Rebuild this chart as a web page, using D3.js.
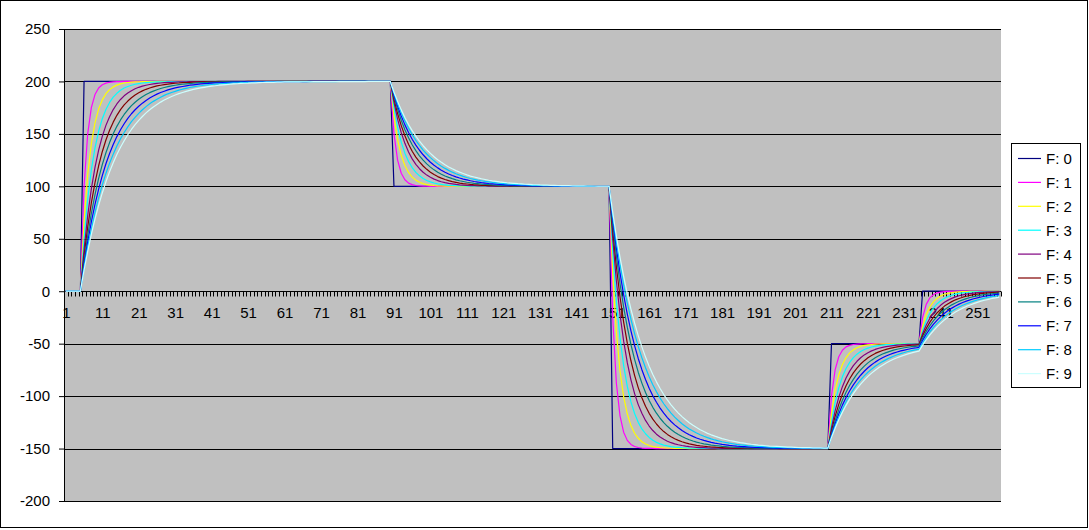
<!DOCTYPE html>
<html><head><meta charset="utf-8">
<script src="https://cdn.jsdelivr.net/npm/d3@7"></script>
<style>body{margin:0;background:#fff}svg{display:block}text{font-family:"Liberation Sans",Arial,sans-serif}</style>
</head><body><svg id="c" width="1089" height="530"></svg>
<script>
const categories = d3.range(1, 258);
const xTickLabels = [1,11,21,31,41,51,61,71,81,91,101,111,121,131,141,151,161,171,181,191,201,211,221,231,241,251];
const yTicks = [-200,-150,-100,-50,0,50,100,150,200,250];
const seriesNames = ["F: 0","F: 1","F: 2","F: 3","F: 4","F: 5","F: 6","F: 7","F: 8","F: 9"];
const seriesColors = ["#000080","#FF00FF","#FFFF00","#00FFFF","#800080","#800000","#008080","#0000FF","#00CCFF","#CCFFFF"];

const f0 = [
0,0,0,0,0,
200,200,200,200,200,200,200,200,200,200,
200,200,200,200,200,200,200,200,200,200,
200,200,200,200,200,200,200,200,200,200,
200,200,200,200,200,200,200,200,200,200,
200,200,200,200,200,200,200,200,200,200,
200,200,200,200,200,200,200,200,200,200,
200,200,200,200,200,200,200,200,200,200,
200,200,200,200,200,200,200,200,200,200,
200,200,200,200,200,
100,100,100,100,100,100,100,100,100,100,
100,100,100,100,100,100,100,100,100,100,
100,100,100,100,100,100,100,100,100,100,
100,100,100,100,100,100,100,100,100,100,
100,100,100,100,100,100,100,100,100,100,
100,100,100,100,100,100,100,100,100,100,
-150,-150,-150,-150,-150,-150,-150,-150,-150,-150,
-150,-150,-150,-150,-150,-150,-150,-150,-150,-150,
-150,-150,-150,-150,-150,-150,-150,-150,-150,-150,
-150,-150,-150,-150,-150,-150,-150,-150,-150,-150,
-150,-150,-150,-150,-150,-150,-150,-150,-150,-150,
-150,-150,-150,-150,-150,-150,-150,-150,-150,-150,
-50,-50,-50,-50,-50,-50,-50,-50,-50,-50,
-50,-50,-50,-50,-50,-50,-50,-50,-50,-50,
-50,-50,-50,-50,-50,
0,0,0,0,0,0,0,0,0,0,
0,0,0,0,0,0,0,0,0,0,
0,0];

const f1 = [
0,0,0,0,0,
100,150,175,187.5,193.8,196.9,198.4,199.2,199.6,199.8,
199.9,200,200,200,200,200,200,200,200,200,
200,200,200,200,200,200,200,200,200,200,
200,200,200,200,200,200,200,200,200,200,
200,200,200,200,200,200,200,200,200,200,
200,200,200,200,200,200,200,200,200,200,
200,200,200,200,200,200,200,200,200,200,
200,200,200,200,200,200,200,200,200,200,
200,200,200,200,200,
150,125,112.5,106.3,103.1,101.6,100.8,100.4,100.2,100.1,
100,100,100,100,100,100,100,100,100,100,
100,100,100,100,100,100,100,100,100,100,
100,100,100,100,100,100,100,100,100,100,
100,100,100,100,100,100,100,100,100,100,
100,100,100,100,100,100,100,100,100,100,
-25,-87.5,-118.8,-134.4,-142.2,-146.1,-148,-149,-149.5,-149.8,
-149.9,-149.9,-150,-150,-150,-150,-150,-150,-150,-150,
-150,-150,-150,-150,-150,-150,-150,-150,-150,-150,
-150,-150,-150,-150,-150,-150,-150,-150,-150,-150,
-150,-150,-150,-150,-150,-150,-150,-150,-150,-150,
-150,-150,-150,-150,-150,-150,-150,-150,-150,-150,
-100,-75,-62.5,-56.3,-53.1,-51.6,-50.8,-50.4,-50.2,-50.1,
-50,-50,-50,-50,-50,-50,-50,-50,-50,-50,
-50,-50,-50,-50,-50,
-25,-12.5,-6.3,-3.1,-1.6,-0.8,-0.4,-0.2,-0.1,0,
0,0,0,0,0,0,0,0,0,0,
0,0];

const f2 = [
0,0,0,0,0,
66.7,111.1,140.7,160.5,173.7,182.4,188.3,192.2,194.8,196.5,
197.7,198.5,199,199.3,199.5,199.7,199.8,199.9,199.9,199.9,
200,200,200,200,200,200,200,200,200,200,
200,200,200,200,200,200,200,200,200,200,
200,200,200,200,200,200,200,200,200,200,
200,200,200,200,200,200,200,200,200,200,
200,200,200,200,200,200,200,200,200,200,
200,200,200,200,200,200,200,200,200,200,
200,200,200,200,200,
166.7,144.4,129.6,119.8,113.2,108.8,105.9,103.9,102.6,101.7,
101.2,100.8,100.5,100.3,100.2,100.2,100.1,100.1,100,100,
100,100,100,100,100,100,100,100,100,100,
100,100,100,100,100,100,100,100,100,100,
100,100,100,100,100,100,100,100,100,100,
100,100,100,100,100,100,100,100,100,100,
16.7,-38.9,-75.9,-100.6,-117.1,-128.1,-135.4,-140.2,-143.5,-145.7,
-147.1,-148.1,-148.7,-149.1,-149.4,-149.6,-149.7,-149.8,-149.9,-149.9,
-149.9,-150,-150,-150,-150,-150,-150,-150,-150,-150,
-150,-150,-150,-150,-150,-150,-150,-150,-150,-150,
-150,-150,-150,-150,-150,-150,-150,-150,-150,-150,
-150,-150,-150,-150,-150,-150,-150,-150,-150,-150,
-116.7,-94.4,-79.6,-69.8,-63.2,-58.8,-55.9,-53.9,-52.6,-51.7,
-51.2,-50.8,-50.5,-50.3,-50.2,-50.2,-50.1,-50.1,-50,-50,
-50,-50,-50,-50,-50,
-33.3,-22.2,-14.8,-9.9,-6.6,-4.4,-2.9,-2,-1.3,-0.9,
-0.6,-0.4,-0.3,-0.2,-0.1,-0.1,-0.1,0,0,0,
0,0];

const f3 = [
0,0,0,0,0,
50,87.5,115.6,136.7,152.5,164.4,173.3,180,185,188.7,
191.6,193.7,195.2,196.4,197.3,198,198.5,198.9,199.2,199.4,
199.5,199.6,199.7,199.8,199.8,199.9,199.9,199.9,200,200,
200,200,200,200,200,200,200,200,200,200,
200,200,200,200,200,200,200,200,200,200,
200,200,200,200,200,200,200,200,200,200,
200,200,200,200,200,200,200,200,200,200,
200,200,200,200,200,200,200,200,200,200,
200,200,200,200,200,
175,156.3,142.2,131.6,123.7,117.8,113.3,110,107.5,105.6,
104.2,103.2,102.4,101.8,101.3,101,100.8,100.6,100.4,100.3,
100.2,100.2,100.1,100.1,100.1,100.1,100,100,100,100,
100,100,100,100,100,100,100,100,100,100,
100,100,100,100,100,100,100,100,100,100,
100,100,100,100,100,100,100,100,100,100,
37.5,-9.4,-44.5,-70.9,-90.7,-105.5,-116.6,-125,-131.2,-135.9,
-139.4,-142.1,-144.1,-145.5,-146.7,-147.5,-148.1,-148.6,-148.9,-149.2,
-149.4,-149.6,-149.7,-149.7,-149.8,-149.9,-149.9,-149.9,-149.9,-150,
-150,-150,-150,-150,-150,-150,-150,-150,-150,-150,
-150,-150,-150,-150,-150,-150,-150,-150,-150,-150,
-150,-150,-150,-150,-150,-150,-150,-150,-150,-150,
-125,-106.3,-92.2,-81.6,-73.7,-67.8,-63.3,-60,-57.5,-55.6,
-54.2,-53.2,-52.4,-51.8,-51.3,-51,-50.8,-50.6,-50.4,-50.3,
-50.2,-50.2,-50.1,-50.1,-50.1,
-37.6,-28.2,-21.1,-15.8,-11.9,-8.9,-6.7,-5,-3.8,-2.8,
-2.1,-1.6,-1.2,-0.9,-0.7,-0.5,-0.4,-0.3,-0.2,-0.2,
-0.1,-0.1];

const f4 = [
0,0,0,0,0,
40,72,97.6,118.1,134.5,147.6,158.1,166.4,173.2,178.5,
182.8,186.3,189,191.2,193,194.4,195.5,196.4,197.1,197.7,
198.2,198.5,198.8,199.1,199.2,199.4,199.5,199.6,199.7,199.8,
199.8,199.8,199.9,199.9,199.9,199.9,199.9,200,200,200,
200,200,200,200,200,200,200,200,200,200,
200,200,200,200,200,200,200,200,200,200,
200,200,200,200,200,200,200,200,200,200,
200,200,200,200,200,200,200,200,200,200,
200,200,200,200,200,
180,164,151.2,141,132.8,126.2,121,116.8,113.4,110.7,
108.6,106.9,105.5,104.4,103.5,102.8,102.3,101.8,101.4,101.2,
100.9,100.7,100.6,100.5,100.4,100.3,100.2,100.2,100.2,100.1,
100.1,100.1,100.1,100.1,100,100,100,100,100,100,
100,100,100,100,100,100,100,100,100,100,
100,100,100,100,100,100,100,100,100,100,
50,10,-22,-47.6,-68.1,-84.5,-97.6,-108.1,-116.4,-123.2,
-128.5,-132.8,-136.3,-139,-141.2,-143,-144.4,-145.5,-146.4,-147.1,
-147.7,-148.2,-148.5,-148.8,-149.1,-149.2,-149.4,-149.5,-149.6,-149.7,
-149.8,-149.8,-149.8,-149.9,-149.9,-149.9,-149.9,-149.9,-150,-150,
-150,-150,-150,-150,-150,-150,-150,-150,-150,-150,
-150,-150,-150,-150,-150,-150,-150,-150,-150,-150,
-130,-114,-101.2,-91,-82.8,-76.2,-71,-66.8,-63.4,-60.7,
-58.6,-56.9,-55.5,-54.4,-53.5,-52.8,-52.3,-51.8,-51.4,-51.2,
-50.9,-50.7,-50.6,-50.5,-50.4,
-40.3,-32.2,-25.8,-20.6,-16.5,-13.2,-10.6,-8.5,-6.8,-5.4,
-4.3,-3.5,-2.8,-2.2,-1.8,-1.4,-1.1,-0.9,-0.7,-0.6,
-0.5,-0.4];

const f5 = [
0,0,0,0,0,
33.3,61.1,84.3,103.5,119.6,133,144.2,153.5,161.2,167.7,
173.1,177.6,181.3,184.4,187,189.2,191,192.5,193.7,194.8,
195.7,196.4,197,197.5,197.9,198.3,198.5,198.8,199,199.2,
199.3,199.4,199.5,199.6,199.7,199.7,199.8,199.8,199.8,199.9,
199.9,199.9,199.9,199.9,199.9,200,200,200,200,200,
200,200,200,200,200,200,200,200,200,200,
200,200,200,200,200,200,200,200,200,200,
200,200,200,200,200,200,200,200,200,200,
200,200,200,200,200,
183.3,169.4,157.9,148.2,140.2,133.5,127.9,123.3,119.4,116.2,
113.5,111.2,109.3,107.8,106.5,105.4,104.5,103.8,103.1,102.6,
102.2,101.8,101.5,101.3,101,100.9,100.7,100.6,100.5,100.4,
100.4,100.3,100.2,100.2,100.2,100.1,100.1,100.1,100.1,100.1,
100.1,100,100,100,100,100,100,100,100,100,
100,100,100,100,100,100,100,100,100,100,
58.3,23.6,-5.3,-29.4,-49.5,-66.3,-80.2,-91.9,-101.5,-109.6,
-116.4,-122,-126.6,-130.5,-133.8,-136.5,-138.7,-140.6,-142.2,-143.5,
-144.6,-145.5,-146.2,-146.9,-147.4,-147.8,-148.2,-148.5,-148.7,-149,
-149.1,-149.3,-149.4,-149.5,-149.6,-149.6,-149.7,-149.8,-149.8,-149.8,
-149.9,-149.9,-149.9,-149.9,-149.9,-149.9,-150,-150,-150,-150,
-150,-150,-150,-150,-150,-150,-150,-150,-150,-150,
-133.3,-119.4,-107.9,-98.2,-90.2,-83.5,-77.9,-73.3,-69.4,-66.2,
-63.5,-61.2,-59.3,-57.8,-56.5,-55.4,-54.5,-53.8,-53.1,-52.6,
-52.2,-51.8,-51.5,-51.3,-51,
-42.5,-35.5,-29.5,-24.6,-20.5,-17.1,-14.2,-11.9,-9.9,-8.2,
-6.9,-5.7,-4.8,-4,-3.3,-2.8,-2.3,-1.9,-1.6,-1.3,
-1.1,-0.9];

const f6 = [
0,0,0,0,0,
28.6,53.1,74.1,92,107.5,120.7,132,141.7,150.1,157.2,
163.3,168.5,173,176.9,180.2,183,185.4,187.5,189.3,190.8,
192.1,193.3,194.2,195.1,195.8,196.4,196.9,197.3,197.7,198,
198.3,198.6,198.8,198.9,199.1,199.2,199.3,199.4,199.5,199.6,
199.6,199.7,199.7,199.8,199.8,199.8,199.9,199.9,199.9,199.9,
199.9,199.9,199.9,200,200,200,200,200,200,200,
200,200,200,200,200,200,200,200,200,200,
200,200,200,200,200,200,200,200,200,200,
200,200,200,200,200,
185.7,173.5,163,154,146.3,139.7,134,129.1,125,121.4,
118.3,115.7,113.5,111.6,109.9,108.5,107.3,106.2,105.3,104.6,
103.9,103.4,102.9,102.5,102.1,101.8,101.6,101.3,101.1,101,
100.8,100.7,100.6,100.5,100.5,100.4,100.3,100.3,100.2,100.2,
100.2,100.2,100.1,100.1,100.1,100.1,100.1,100.1,100.1,100,
100,100,100,100,100,100,100,100,100,100,
64.3,33.7,7.4,-15.1,-34.3,-50.9,-65,-77.2,-87.6,-96.5,
-104.1,-110.7,-116.3,-121.1,-125.2,-128.8,-131.8,-134.4,-136.6,-138.5,
-140.2,-141.6,-142.8,-143.8,-144.7,-145.5,-146.1,-146.7,-147.1,-147.5,
-147.9,-148.2,-148.5,-148.7,-148.9,-149,-149.2,-149.3,-149.4,-149.5,
-149.6,-149.6,-149.7,-149.7,-149.8,-149.8,-149.8,-149.8,-149.9,-149.9,
-149.9,-149.9,-149.9,-149.9,-149.9,-150,-150,-150,-150,-150,
-135.7,-123.5,-113,-104,-96.3,-89.7,-84,-79.1,-75,-71.4,
-68.3,-65.7,-63.5,-61.6,-59.9,-58.5,-57.3,-56.2,-55.3,-54.6,
-53.9,-53.4,-52.9,-52.5,-52.1,
-44.7,-38.3,-32.8,-28.1,-24.1,-20.7,-17.7,-15.2,-13,-11.2,
-9.6,-8.2,-7,-6,-5.2,-4.4,-3.8,-3.3,-2.8,-2.4,
-2,-1.8];

const f7 = [
0,0,0,0,0,
25,46.9,66,82.8,97.4,110.2,121.5,131.3,139.9,147.4,
154,159.7,164.8,169.2,173,176.4,179.3,181.9,184.2,186.2,
187.9,189.4,190.7,191.9,192.9,193.8,194.6,195.2,195.8,196.4,
196.8,197.2,197.6,197.9,198.1,198.4,198.6,198.7,198.9,199,
199.2,199.3,199.4,199.4,199.5,199.6,199.6,199.7,199.7,199.7,
199.8,199.8,199.8,199.9,199.9,199.9,199.9,199.9,199.9,199.9,
199.9,199.9,200,200,200,200,200,200,200,200,
200,200,200,200,200,200,200,200,200,200,
200,200,200,200,200,
187.5,176.6,167,158.6,151.3,144.9,139.3,134.4,130.1,126.3,
123,120.1,117.6,115.4,113.5,111.8,110.3,109,107.9,106.9,
106.1,105.3,104.6,104.1,103.5,103.1,102.7,102.4,102.1,101.8,
101.6,101.4,101.2,101.1,100.9,100.8,100.7,100.6,100.5,100.5,
100.4,100.4,100.3,100.3,100.2,100.2,100.2,100.2,100.1,100.1,
100.1,100.1,100.1,100.1,100.1,100.1,100,100,100,100,
68.8,41.4,17.5,-3.5,-21.8,-37.8,-51.8,-64.1,-74.8,-84.2,
-92.5,-99.6,-105.9,-111.4,-116.3,-120.5,-124.2,-127.4,-130.2,-132.7,
-134.9,-136.8,-138.4,-139.9,-141.1,-142.2,-143.2,-144.1,-144.8,-145.4,
-146,-146.5,-147,-147.3,-147.7,-148,-148.2,-148.4,-148.6,-148.8,
-149,-149.1,-149.2,-149.3,-149.4,-149.5,-149.5,-149.6,-149.6,-149.7,
-149.7,-149.8,-149.8,-149.8,-149.8,-149.9,-149.9,-149.9,-149.9,-149.9,
-137.5,-126.6,-117,-108.6,-101.3,-94.9,-89.3,-84.4,-80.1,-76.3,
-73,-70.1,-67.6,-65.4,-63.5,-61.8,-60.3,-59,-57.9,-56.9,
-56.1,-55.3,-54.6,-54.1,-53.5,
-46.9,-41,-35.9,-31.4,-27.5,-24,-21,-18.4,-16.1,-14.1,
-12.3,-10.8,-9.4,-8.3,-7.2,-6.3,-5.5,-4.8,-4.2,-3.7,
-3.2,-2.8];

const f8 = [
0,0,0,0,0,
22.2,42,59.5,75.1,89,101.3,112.3,122.1,130.7,138.4,
145.3,151.3,156.7,161.6,165.8,169.6,173,176,178.7,181,
183.1,185,186.7,188.2,189.5,190.6,191.7,192.6,193.4,194.2,
194.8,195.4,195.9,196.4,196.8,197.1,197.4,197.7,198,198.2,
198.4,198.6,198.7,198.9,199,199.1,199.2,199.3,199.4,199.4,
199.5,199.6,199.6,199.7,199.7,199.7,199.8,199.8,199.8,199.8,
199.8,199.9,199.9,199.9,199.9,199.9,199.9,199.9,199.9,199.9,
200,200,200,200,200,200,200,200,200,200,
200,200,200,200,200,
188.9,179,170.2,162.4,155.5,149.3,143.8,139,134.6,130.8,
127.4,124.3,121.6,119.2,117.1,115.2,113.5,112,110.7,109.5,
108.4,107.5,106.7,105.9,105.3,104.7,104.2,103.7,103.3,102.9,
102.6,102.3,102.1,101.8,101.6,101.4,101.3,101.1,101,100.9,
100.8,100.7,100.6,100.6,100.5,100.4,100.4,100.4,100.3,100.3,
100.2,100.2,100.2,100.2,100.2,100.1,100.1,100.1,100.1,100.1,
72.2,47.5,25.6,6.1,-11.3,-26.7,-40.4,-52.6,-63.4,-73,
-81.6,-89.2,-95.9,-101.9,-107.3,-112,-116.2,-120,-123.3,-126.3,
-128.9,-131.3,-133.3,-135.2,-136.8,-138.3,-139.6,-140.8,-141.8,-142.7,
-143.5,-144.2,-144.9,-145.4,-146,-146.4,-146.8,-147.2,-147.5,-147.8,
-148,-148.2,-148.4,-148.6,-148.8,-148.9,-149,-149.1,-149.2,-149.3,
-149.4,-149.5,-149.5,-149.6,-149.6,-149.7,-149.7,-149.7,-149.8,-149.8,
-138.7,-128.8,-120.1,-112.3,-105.4,-99.2,-93.8,-88.9,-84.6,-80.7,
-77.3,-74.3,-71.6,-69.2,-67.1,-65.2,-63.5,-62,-60.6,-59.5,
-58.4,-57.5,-56.6,-55.9,-55.3,
-49.1,-43.7,-38.8,-34.5,-30.7,-27.3,-24.2,-21.5,-19.1,-17,
-15.1,-13.4,-11.9,-10.6,-9.4,-8.4,-7.5,-6.6,-5.9,-5.2,
-4.7,-4.1];

const f9 = [
0,0,0,0,0,
20,38,54.2,68.8,81.9,93.7,104.3,113.9,122.5,130.3,
137.2,143.5,149.2,154.2,158.8,162.9,166.6,170,173,175.7,
178.1,180.3,182.3,184,185.6,187.1,188.4,189.5,190.6,191.5,
192.4,193.1,193.8,194.4,195,195.5,195.9,196.4,196.7,197,
197.3,197.6,197.8,198.1,198.3,198.4,198.6,198.7,198.9,199,
199.1,199.2,199.2,199.3,199.4,199.5,199.5,199.6,199.6,199.6,
199.7,199.7,199.7,199.8,199.8,199.8,199.8,199.8,199.9,199.9,
199.9,199.9,199.9,199.9,199.9,199.9,199.9,199.9,200,200,
200,200,200,200,200,
190,181,172.9,165.6,159,153.1,147.8,143,138.7,134.9,
131.4,128.2,125.4,122.9,120.6,118.5,116.7,115,113.5,112.2,
110.9,109.8,108.9,108,107.2,106.5,105.8,105.2,104.7,104.2,
103.8,103.4,103.1,102.8,102.5,102.3,102,101.8,101.6,101.5,
101.3,101.2,101.1,101,100.9,100.8,100.7,100.6,100.6,100.5,
100.5,100.4,100.4,100.3,100.3,100.3,100.2,100.2,100.2,100.2,
75.2,52.6,32.4,14.1,-2.3,-17,-30.3,-42.3,-53.1,-62.8,
-71.5,-79.3,-86.4,-92.8,-98.5,-103.6,-108.3,-112.4,-116.2,-119.6,
-122.6,-125.4,-127.8,-130,-132,-133.8,-135.5,-136.9,-138.2,-139.4,
-140.5,-141.4,-142.3,-143,-143.7,-144.4,-144.9,-145.4,-145.9,-146.3,
-146.7,-147,-147.3,-147.6,-147.8,-148,-148.2,-148.4,-148.6,-148.7,
-148.8,-149,-149.1,-149.2,-149.2,-149.3,-149.4,-149.4,-149.5,-149.6,
-139.6,-130.6,-122.6,-115.3,-108.8,-102.9,-97.6,-92.9,-88.6,-84.7,
-81.2,-78.1,-75.3,-72.8,-70.5,-68.4,-66.6,-64.9,-63.4,-62.1,
-60.9,-59.8,-58.8,-57.9,-57.1,
-51.4,-46.3,-41.7,-37.5,-33.7,-30.4,-27.3,-24.6,-22.1,-19.9,
-17.9,-16.1,-14.5,-13.1,-11.8,-10.6,-9.5,-8.6,-7.7,-6.9,
-6.3,-5.6];

const seriesValues = [f0,f1,f2,f3,f4,f5,f6,f7,f8,f9];

const plot = {left:64, right:1001, top:29, bottom:501};
const svg = d3.select("#c");

svg.append("rect").attr("x",0.5).attr("y",0.5).attr("width",1087).attr("height",527)
  .attr("fill","#fff").attr("stroke","#000");

const x = d3.scalePoint().domain(categories).range([plot.left, plot.right]).padding(0.5);
const y = d3.scaleLinear().domain([-200, 250]).range([plot.bottom, plot.top]);
const step = x.step();

svg.append("rect").attr("x",plot.left).attr("y",plot.top)
  .attr("width",plot.right-plot.left).attr("height",plot.bottom-plot.top).attr("fill","#C0C0C0");

// gridlines
svg.append("g").selectAll("line").data(yTicks).join("line")
  .attr("x1",plot.left).attr("x2",plot.right)
  .attr("y1",d=>Math.round(y(d))+0.5).attr("y2",d=>Math.round(y(d))+0.5)
  .attr("stroke","#000").attr("stroke-width",1);

// y axis
const yAxis = d3.axisLeft(y).tickValues(yTicks).tickSize(5).tickPadding(9).tickFormat(d => String(d));
const gy = svg.append("g").attr("transform",`translate(${plot.left},0)`).call(yAxis);
gy.select(".domain").attr("stroke","#000");
gy.selectAll("text").attr("font-size",15).attr("font-family","'Liberation Sans', Arial, sans-serif").attr("fill","#000");
gy.selectAll(".tick line").attr("stroke","#000");

// x axis at value 0
const y0 = Math.round(y(0)) + 0.5;
svg.append("line").attr("x1",plot.left).attr("x2",plot.right).attr("y1",y0).attr("y2",y0).attr("stroke","#000");
const boundaries = categories.map(c => x(c) - step/2).concat([x(categories[categories.length-1]) + step/2]);
svg.append("g").selectAll("line").data(boundaries).join("line")
  .attr("x1",d=>Math.round(d)+0.5).attr("x2",d=>Math.round(d)+0.5)
  .attr("y1",y0).attr("y2",y0+5).attr("stroke","#000");
const xAxis = d3.axisBottom(x).tickValues(xTickLabels).tickSize(0).tickPadding(16).tickFormat(d => String(d));
const gx = svg.append("g").attr("transform",`translate(0,${y0-0.5})`).call(xAxis);
gx.select(".domain").remove();
gx.selectAll("text").attr("font-size",15).attr("font-family","'Liberation Sans', Arial, sans-serif").attr("fill","#000");

// series lines
const line = d3.line().x((d,i)=>x(categories[i])).y(d=>y(d));
svg.append("g").selectAll("path").data(seriesValues).join("path")
  .attr("d",d=>line(d)).attr("fill","none")
  .attr("stroke",(d,i)=>seriesColors[i]).attr("stroke-width",1.2)
  .attr("stroke-linejoin","round");

// legend
const lg = svg.append("g");
lg.append("rect").attr("x",1011.5).attr("y",143.5).attr("width",69).attr("height",244)
  .attr("fill","#fff").attr("stroke","#000");
const items = lg.selectAll("g.item").data(seriesNames).join("g").attr("class","item")
  .attr("transform",(d,i)=>`translate(0,${158.5 + i*23.9})`);
items.append("line").attr("x1",1018).attr("x2",1041).attr("y1",0).attr("y2",0)
  .attr("stroke",(d,i)=>seriesColors[i]).attr("stroke-width",1.2);
items.append("text").attr("x",1046).attr("y",5.5).attr("font-size",15).attr("fill","#000").text(d=>d);
</script></body></html>
